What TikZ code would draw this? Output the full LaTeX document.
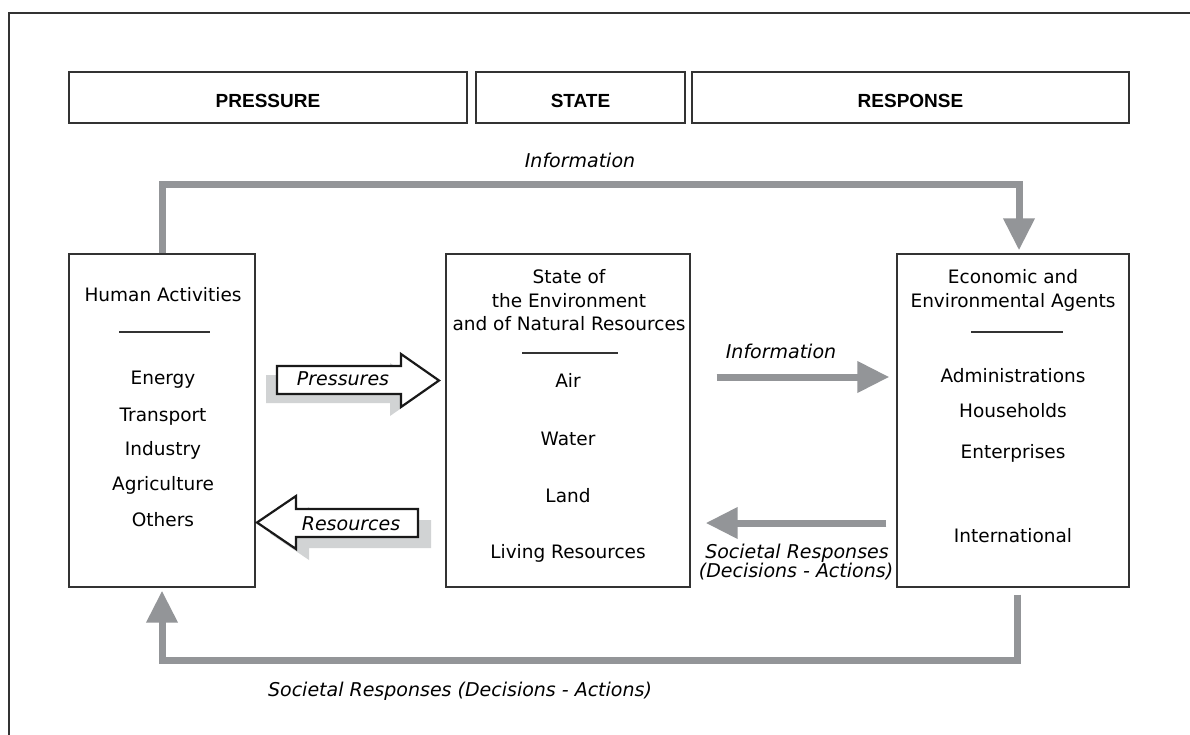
\documentclass[tikz,border=0pt]{standalone}
\usepackage{fontspec}
\setmainfont{DejaVu Sans}
\newfontfamily\hdfont{Liberation Sans}
\usetikzlibrary{arrows.meta}
\definecolor{flowgray}{HTML}{939598}
\definecolor{shadowgray}{HTML}{D1D3D4}
\definecolor{edgecol}{HTML}{333333}
\begin{document}
\begin{tikzpicture}[x=1pt,y=-1pt,
  panel/.style={draw=edgecol, line width=1.4pt, inner sep=0pt},
  txt/.style={font=\fontsize{18.5}{22}\selectfont, anchor=base, inner sep=0pt},
  itxt/.style={font=\fontsize{19}{22}\selectfont\itshape, anchor=base, inner sep=0pt},
  hdr/.style={font=\hdfont\bfseries\fontsize{19}{22}\selectfont, anchor=base, inner sep=0pt},
  flow/.style={draw=flowgray, line width=7pt, line join=miter, -{Triangle[length=32pt,width=30pt]}},
  sep/.style={draw=edgecol, line width=1.2pt},
  blockarrow/.style={draw=black!90, fill=white, line width=2.2pt, line join=miter},
  blockshadow/.style={fill=shadowgray}
]
\useasboundingbox (0,0) rectangle (1190,735);
\fill[white] (0,0) rectangle (1190,735);
% outer frame (open to the right and bottom)
\draw[edgecol, line width=1.4pt] (1190,13) -- (9,13) -- (9,735);

% header boxes
\node[panel, minimum width=398pt, minimum height=51pt] (hp) at (268,97.5) {};
\node[panel, minimum width=209pt, minimum height=51pt] (hs) at (580.5,97.5) {};
\node[panel, minimum width=437pt, minimum height=51pt] (hr) at (910.5,97.5) {};
\node[hdr] (hpt) at (268,108) {PRESSURE};
\node[hdr] (hst) at (580.5,108) {STATE};
\node[hdr] (hrt) at (910.5,108) {RESPONSE};

% main boxes
\node[panel, minimum width=186pt, minimum height=333pt] (ha) at (162,420.5) {};
\node[panel, minimum width=244pt, minimum height=333pt] (st) at (568,420.5) {};
\node[panel, minimum width=232pt, minimum height=333pt] (ec) at (1013,420.5) {};

% Human activities text
\node[txt] (ha1) at (163,301) {Human Activities};
\draw[sep] (119,332) -- (210,332);
\node[txt] (ha2) at (163,384) {Energy};
\node[txt] (ha3) at (163,421) {Transport};
\node[txt] (ha4) at (163,455) {Industry};
\node[txt] (ha5) at (163,490) {Agriculture};
\node[txt] (ha6) at (163,526) {Others};

% State text
\node[txt] (st1) at (569,283) {State of};
\node[txt] (st2) at (569,307) {the Environment};
\node[txt] (st3) at (569,330) {and of Natural Resources};
\draw[sep] (522,353) -- (618,353);
\node[txt] (st4) at (568,387) {Air};
\node[txt] (st5) at (568,445) {Water};
\node[txt] (st6) at (568,502) {Land};
\node[txt] (st7) at (568,558) {Living Resources};

% Economic agents text
\node[txt] (ec1) at (1013,283) {Economic and};
\node[txt] (ec2) at (1013,307) {Environmental Agents};
\draw[sep] (971,332) -- (1063,332);
\node[txt] (ec3) at (1013,382) {Administrations};
\node[txt] (ec4) at (1013,417) {Households};
\node[txt] (ec5) at (1013,458) {Enterprises};
\node[txt] (ec6) at (1013,542) {International};

% Pressures block arrow
\fill[blockshadow, shift={(-11,9)}] (277,366) -- (401,366) -- (401,354) -- (439,380.5) -- (401,407) -- (401,394) -- (277,394) -- cycle;
\draw[blockarrow] (277,366) -- (401,366) -- (401,354) -- (439,380.5) -- (401,407) -- (401,394) -- (277,394) -- cycle;
\node[itxt] (pr) at (343,385) {Pressures};

% Resources block arrow
\fill[blockshadow, shift={(13,11)}] (418,509) -- (296,509) -- (296,496) -- (257,522.5) -- (296,549) -- (296,537) -- (418,537) -- cycle;
\draw[blockarrow] (418,509) -- (296,509) -- (296,496) -- (257,522.5) -- (296,549) -- (296,537) -- (418,537) -- cycle;
\node[itxt] (rs) at (351,530) {Resources};

% top information loop
\coordinate (t1) at (1019,185);
\draw[flow, shorten >=3pt] (ha.north) |- (t1) -- (t1 |- ec.north);
\node[itxt] (inf1) at (580,168) {Information};

% middle information arrow
\draw[flow, shorten <=26pt, shorten >=7pt] (st.east |- 0,377) -- (ec.west |- 0,377);
\node[itxt] (inf2) at (781,358) {Information};

% societal responses (middle)
\draw[flow, shorten <=10pt, shorten >=15pt] (ec.west |- 0,523) -- (st.east |- 0,523);
\node[itxt] (sr1) at (797,558) {Societal Responses};
\node[itxt] (sr2) at (796,577) {(Decisions - Actions)};

% bottom societal responses loop
\coordinate (b1) at (1017,660);
\draw[flow, shorten <=7pt, shorten >=3pt] ([xshift=4pt]ec.south) -- (b1) -| (ha.south);
\node[itxt] (sr3) at (460,696) {Societal Responses (Decisions - Actions)};
\end{tikzpicture}
\end{document}
